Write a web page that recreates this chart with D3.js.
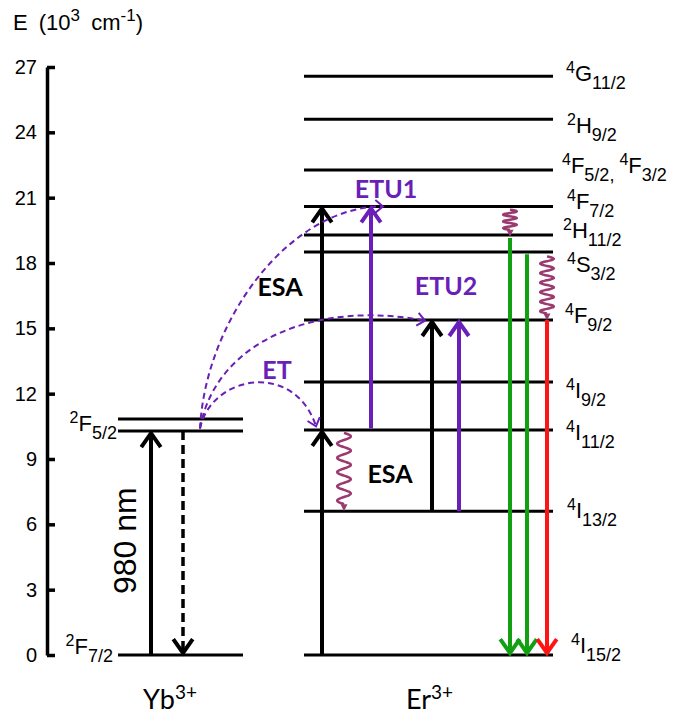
<!DOCTYPE html>
<html>
<head>
<meta charset="utf-8">
<title>Yb-Er energy levels</title>
<script src="https://d3js.org/d3.v7.min.js"></script>
<style>
  body { margin: 0; background: #fff; }
</style>
</head>
<body>
<div id="chart"></div>
<script>
// energy axis ticks (10^3 cm^-1)
const yTicks = [0, 3, 6, 9, 12, 15, 18, 21, 24, 27];

// Yb3+ levels
const ybLevels = [
  {id: "2F7/2", label: [["2", "F", "7/2"]], E: 0},
  {id: "2F5/2", label: [["2", "F", "5/2"]], E: 10.28},
  {id: "2F5/2b", label: null, E: 10.84}
];

// Er3+ levels
const erLevels = [
  {id: "4I15/2", label: [["4", "I", "15/2"]], E: 0},
  {id: "4I13/2", label: [["4", "I", "13/2"]], E: 6.6},
  {id: "4I11/2", label: [["4", "I", "11/2"]], E: 10.33},
  {id: "4I9/2", label: [["4", "I", "9/2"]], E: 12.53},
  {id: "4F9/2", label: [["4", "F", "9/2"]], E: 15.38},
  {id: "4S3/2", label: [["4", "S", "3/2"]], E: 18.5},
  {id: "2H11/2", label: [["2", "H", "11/2"]], E: 19.28},
  {id: "4F7/2", label: [["4", "F", "7/2"]], E: 20.6},
  {id: "4F5/2", label: [["4", "F", "5/2,"], ["4", "F", "3/2"]], E: 22.27},
  {id: "2H9/2", label: [["2", "H", "9/2"]], E: 24.6},
  {id: "4G11/2", label: [["4", "G", "11/2"]], E: 26.58}
];

// straight transitions (absorption / emission)
const transitions = [
  {col: "ybPump", from: 0, to: 10.28, kind: "black"},
  {col: "ybBack", from: 10.28, to: 0, kind: "dash"},
  {col: "erGSA", from: 0, to: 10.33, kind: "black"},
  {col: "erGSA", from: 10.33, to: 20.6, kind: "black"},
  {col: "etu1", from: 10.4, to: 20.6, kind: "purple"},
  {col: "esa2", from: 6.6, to: 15.38, kind: "black"},
  {col: "etu2", from: 6.6, to: 15.38, kind: "purple"},
  {col: "green1", from: 19.15, to: 0, kind: "green"},
  {col: "green2", from: 18.4, to: 0, kind: "green"},
  {col: "red", from: 15.38, to: 0, kind: "red"}
];

// non-radiative relaxations (wavy)
const relaxations = [
  {col: "green1", from: 20.45, to: 19.25, waves: 3},
  {col: "red", from: 18.3, to: 15.4, waves: 6},
  {col: "nr", from: 10.2, to: 6.65, waves: 5}
];

// energy transfer curves from Yb 2F5/2; control points as [fraction of dx, energy]
const transfers = [
  {name: "ETU1", from: 10.4, to: 20.6, end: "etu1Tip", c1: [0.03, 15.4], c2: [0.49, 20.6]},
  {name: "ETU2", from: 10.4, to: 15.35, end: "etu2Tip", c1: [0.07, 14.5], c2: [0.53, 16.3]},
  {name: "ET", from: 10.4, to: 10.5, end: "etTip", c1: [0.1, 12.9], c2: [0.82, 13.5]}
];

// process labels
const processLabels = [
  {text: "ETU1", E: 20.98, at: "etu1Lab", color: "purple"},
  {text: "ETU2", E: 16.55, at: "etu2Lab", color: "purple"},
  {text: "ET", E: 12.67, at: "etLab", color: "purple"},
  {text: "ESA", E: 16.48, at: "esa1Lab", color: "black"},
  {text: "ESA", E: 7.9, at: "esa2Lab", color: "black"}
];

// layout
const width = 686, height = 719;
const cols = {
  ybPump: 151, ybBack: 183, ybSrc: 200,
  erGSA: 322, nr: 344, etu1: 371, esa2: 432, etu2: 459,
  green1: 510, green2: 527, red: 547,
  etu1Tip: 383, etu2Tip: 425, etTip: 316,
  etu1Lab: 386, etu2Lab: 446, etLab: 277, esa1Lab: 280, esa2Lab: 390
};
const colors = {
  black: "#000", dash: "#000", purple: "#6a1fb8", green: "#12a012",
  red: "#ff1414", wave: "#9a3a70"
};

const svg = d3.select("#chart").append("svg")
  .attr("width", width)
  .attr("height", height);

const y = d3.scaleLinear().domain([0, 27]).range([655, 67]);

// axis
const axis = d3.axisLeft(y)
  .tickValues(yTicks)
  .tickSizeInner(-8)
  .tickSizeOuter(0)
  .tickPadding(10);

const gAxis = svg.append("g")
  .attr("transform", "translate(47,0)")
  .call(axis);
gAxis.select(".domain").attr("stroke-width", 3.5);
gAxis.selectAll(".tick line").attr("stroke-width", 3.5);
gAxis.selectAll(".tick text")
  .attr("font-family", "Liberation Sans, Arial, sans-serif")
  .attr("font-size", 20)
  .attr("fill", "#000");

// axis title
const title = svg.append("text")
  .attr("x", 13)
  .attr("y", 30)
  .attr("font-family", "Liberation Sans, Arial, sans-serif")
  .attr("font-size", 22)
  .attr("word-spacing", 5);
title.append("tspan").text("E (10");
title.append("tspan").attr("font-size", 17).attr("dy", -9).text("3");
title.append("tspan").attr("dy", 9).text(" cm");
title.append("tspan").attr("font-size", 17).attr("dy", -9).text("-1");
title.append("tspan").attr("dy", 9).text(")");

// term symbol label: sup, main, sub
function termLabel(g, parts, x, yb, anchor) {
  const t = g.append("text")
    .attr("x", x)
    .attr("y", yb)
    .attr("text-anchor", anchor)
    .attr("font-family", "Liberation Sans, Arial, sans-serif")
    .attr("font-size", 22);
  let cur = 0;
  parts.forEach((p, i) => {
    const seq = [[p[0], 16, -8], [p[1], 22, 0], [p[2], 18, 8]];
    seq.forEach(([s, fs, off], j) => {
      const ts = t.append("tspan")
        .attr("font-size", fs)
        .attr("dy", off - cur)
        .text(s);
      if (i > 0 && j === 0) ts.attr("dx", 5);
      cur = off;
    });
  });
  return t;
}

// Yb levels
const gYb = svg.append("g");
gYb.selectAll("line")
  .data(ybLevels)
  .join("line")
  .attr("x1", 118).attr("x2", 243)
  .attr("y1", d => y(d.E)).attr("y2", d => y(d.E))
  .attr("stroke", "#000")
  .attr("stroke-width", 3);
const ybLabelShift = {"2F7/2": [113, -1], "2F5/2": [117, 0]};
ybLevels.filter(d => d.label).forEach(d => {
  const s = ybLabelShift[d.id];
  termLabel(gYb, d.label, s[0], y(d.E) + s[1], "end");
});

// Er levels
const gEr = svg.append("g");
gEr.selectAll("line")
  .data(erLevels)
  .join("line")
  .attr("x1", 304).attr("x2", 553)
  .attr("y1", d => y(d.E)).attr("y2", d => y(d.E))
  .attr("stroke", "#000")
  .attr("stroke-width", 3);
const erLabelShift = {
  "4I15/2": [571, -2], "4I13/2": [567, 7], "4I11/2": [566, 10], "4I9/2": [566, 16],
  "4F9/2": [565, 3], "4S3/2": [567, 20], "2H11/2": [563, 3], "4F7/2": [567, 3],
  "4F5/2": [562, 3], "2H9/2": [567, 14], "4G11/2": [566, 5]
};
erLevels.forEach(d => {
  const s = erLabelShift[d.id];
  termLabel(gEr, d.label, s[0], y(d.E) + s[1], "start");
});

// chevron head helper
function chevron(tx, ty, ux, uy, len, ang) {
  const a = ang * Math.PI / 180;
  const c = Math.cos(a), s = Math.sin(a);
  const bx = -ux, by = -uy;
  const p1 = [tx + len * (bx * c - by * s), ty + len * (bx * s + by * c)];
  const p2 = [tx + len * (bx * c + by * s), ty + len * (-bx * s + by * c)];
  return `M${p1[0]},${p1[1]}L${tx},${ty}L${p2[0]},${p2[1]}`;
}

// straight arrows
const gArr = svg.append("g");
transitions.forEach(d => {
  const x = cols[d.col];
  const y0 = y(d.from), y1 = y(d.to);
  const dir = y1 < y0 ? -1 : 1;
  const tip = y1 - dir * 2;
  gArr.append("line")
    .attr("x1", x).attr("x2", x)
    .attr("y1", y0).attr("y2", tip)
    .attr("stroke", colors[d.kind])
    .attr("stroke-width", d.kind === "dash" ? 3.5 : 4)
    .attr("stroke-dasharray", d.kind === "dash" ? "9,5" : null);
  gArr.append("path")
    .attr("d", chevron(x, tip, 0, dir, 17, 35))
    .attr("fill", "none")
    .attr("stroke", colors[d.kind])
    .attr("stroke-width", 4)
    .attr("stroke-linejoin", "miter");
});

// wavy relaxations
const gWave = svg.append("g");
const waveLine = d3.line().curve(d3.curveBasis);
relaxations.forEach(d => {
  const x = cols[d.col];
  const y0 = y(d.from), y1 = y(d.to) - 6;
  const n = d.waves * 16;
  const pts = d3.range(n + 1).map(i => {
    const t = i / n;
    return [x + 7 * Math.sin(t * d.waves * 2 * Math.PI), y0 + t * (y1 - y0)];
  });
  gWave.append("path")
    .attr("d", waveLine(pts))
    .attr("fill", "none")
    .attr("stroke", colors.wave)
    .attr("stroke-width", 2.5);
  gWave.append("path")
    .attr("d", `M${x - 3.5},${y1}L${x + 3.5},${y1}L${x},${y1 + 7}Z`)
    .attr("fill", colors.wave);
});

// energy transfer dashed curves
const gEt = svg.append("g");
transfers.forEach(d => {
  const x0 = cols.ybSrc, y0 = y(d.from);
  const x1 = cols[d.end], y1 = y(d.to);
  const dx = x1 - x0;
  const c1 = [x0 + d.c1[0] * dx, y(d.c1[1])];
  const c2 = [x0 + d.c2[0] * dx, y(d.c2[1])];
  const p = d3.path();
  p.moveTo(x0, y0);
  p.bezierCurveTo(c1[0], c1[1], c2[0], c2[1], x1, y1);
  gEt.append("path")
    .attr("d", p.toString())
    .attr("fill", "none")
    .attr("stroke", colors.purple)
    .attr("stroke-width", 2)
    .attr("stroke-dasharray", "6,4");
  const vx = x1 - c2[0], vy = y1 - c2[1];
  const L = Math.hypot(vx, vy);
  gEt.append("path")
    .attr("d", chevron(x1, y1, vx / L, vy / L, 10, 40))
    .attr("fill", "none")
    .attr("stroke", colors.purple)
    .attr("stroke-width", 2);
});

// process labels
svg.append("g").selectAll("text")
  .data(processLabels)
  .join("text")
  .attr("x", d => cols[d.at])
  .attr("y", d => y(d.E))
  .attr("text-anchor", "middle")
  .attr("font-family", "Lato, Open Sans, sans-serif")
  .attr("font-weight", 700)
  .attr("font-size", 25)
  .attr("fill", d => colors[d.color])
  .text(d => d.text);

// ion labels
const ions = [{base: "Yb", sup: "3+", x: 143}, {base: "Er", sup: "3+", x: 406}];
ions.forEach(d => {
  const t = svg.append("text")
    .attr("x", d.x)
    .attr("y", 709)
    .attr("font-family", "Lato, Open Sans, sans-serif")
    .attr("font-size", 27);
  t.append("tspan").text(d.base);
  t.append("tspan").attr("font-size", 19).attr("dy", -10).text(d.sup);
});

// 980 nm label
svg.append("text")
  .attr("transform", `translate(136,${y(5.25)}) rotate(-90)`)
  .attr("text-anchor", "middle")
  .attr("font-family", "Liberation Sans, Arial, sans-serif")
  .attr("font-size", 32)
  .text("980 nm");
</script>
</body>
</html>
